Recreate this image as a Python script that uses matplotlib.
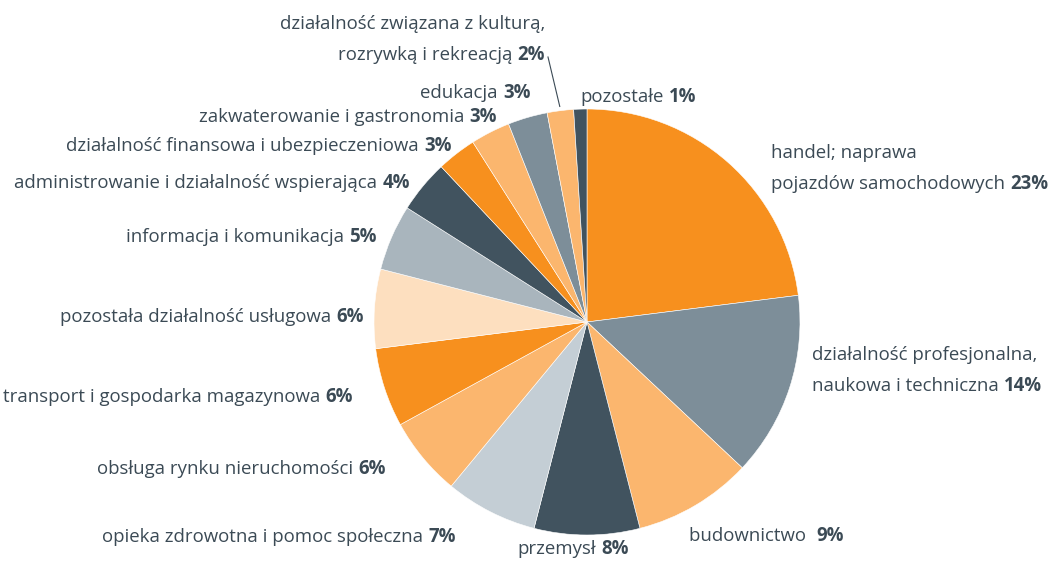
import matplotlib
matplotlib.use("Agg")
import matplotlib.pyplot as plt
import numpy as np
from matplotlib.offsetbox import TextArea, HPacker, VPacker, AnnotationBbox

# ---- data ----
categories = [
    ["handel; naprawa", "pojazdów samochodowych"],
    ["działalność profesjonalna,", "naukowa i techniczna"],
    ["budownictwo "],
    ["przemysł"],
    ["opieka zdrowotna i pomoc społeczna"],
    ["obsługa rynku nieruchomości"],
    ["transport i gospodarka magazynowa"],
    ["pozostała działalność usługowa"],
    ["informacja i komunikacja"],
    ["administrowanie i działalność wspierająca"],
    ["działalność finansowa i ubezpieczeniowa"],
    ["zakwaterowanie i gastronomia"],
    ["edukacja"],
    ["działalność związana z kulturą,", "rozrywką i rekreacją"],
    ["pozostałe"],
]
values = [23, 14, 9, 8, 7, 6, 6, 6, 5, 4, 3, 3, 3, 2, 1]

# ---- style ----
ORANGE = "#F7901E"
GREYBLUE = "#7D8E99"
LORANGE = "#FBB66E"
DARK = "#41535F"
LGREY = "#C4CED5"
PEACH = "#FDDFBF"
MGREY = "#A9B5BD"
colors = [ORANGE, GREYBLUE, LORANGE, DARK, LGREY, LORANGE, ORANGE, PEACH,
          MGREY, DARK, ORANGE, LORANGE, GREYBLUE, LORANGE, DARK]
TEXT = "#3B4A55"
FONT = "Open Sans"
FS = 13.4

W, H = 1062, 562
CX, CY, R = 587, 322, 213

# label layout: (anchor x px, anchor y px (center of block), alignment)
layout = [
    (771, 169, "left"),
    (812, 371, "left"),
    (689, 536, "left"),
    (517, 549, "left"),
    (456, 537, "right"),
    (386, 469, "right"),
    (353, 397, "right"),
    (364, 317, "right"),
    (377, 237, "right"),
    (410, 183, "right"),
    (452, 146, "right"),
    (497, 117, "right"),
    (531, 93, "right"),
    (545, 40, "right"),
    (580, 97, "left"),
]

fig = plt.figure(figsize=(W / 100, H / 100), dpi=100)
ax = fig.add_axes([0, 0, 1, 1])

ax.pie(values, colors=colors, startangle=90, counterclock=False,
       radius=1.0, center=(0, 0),
       wedgeprops=dict(edgecolor="white", linewidth=0.4))
ax.set_xlim(-CX / R, (W - CX) / R)
ax.set_ylim((CY - H) / R, CY / R)
ax.set_aspect("equal")
ax.axis("off")


def px2data(px, py):
    return ((px - CX) / R, (CY - py) / R)


for lines, v, (px, py, al) in zip(categories, values, layout):
    rows = []
    for i, ln in enumerate(lines):
        parts = [TextArea(ln, textprops=dict(color=TEXT, fontsize=FS, family=FONT))]
        if i == len(lines) - 1:
            parts.append(TextArea(f"{v}%", textprops=dict(color=TEXT, fontsize=FS,
                                                          family=FONT, fontweight="bold")))
        rows.append(HPacker(children=parts, pad=0, sep=4, align="baseline"))
    box = VPacker(children=rows, pad=0, sep=8, align=al)
    ab = AnnotationBbox(box, px2data(px, py), frameon=False,
                        box_alignment=(0 if al == "left" else 1, 0.5), pad=0)
    ax.add_artist(ab)

# leader line for the 2% slice
cum = np.cumsum(values)
mid = (cum[13] - values[13] / 2) / sum(values) * 2 * np.pi
p0 = (1.02 * np.sin(mid), 1.02 * np.cos(mid))
p1 = px2data(548, 57)
ax.plot([p0[0], p1[0]], [p0[1], p1[1]], color=TEXT, lw=0.8)

fig.savefig("out.png", dpi=100, facecolor="white")
